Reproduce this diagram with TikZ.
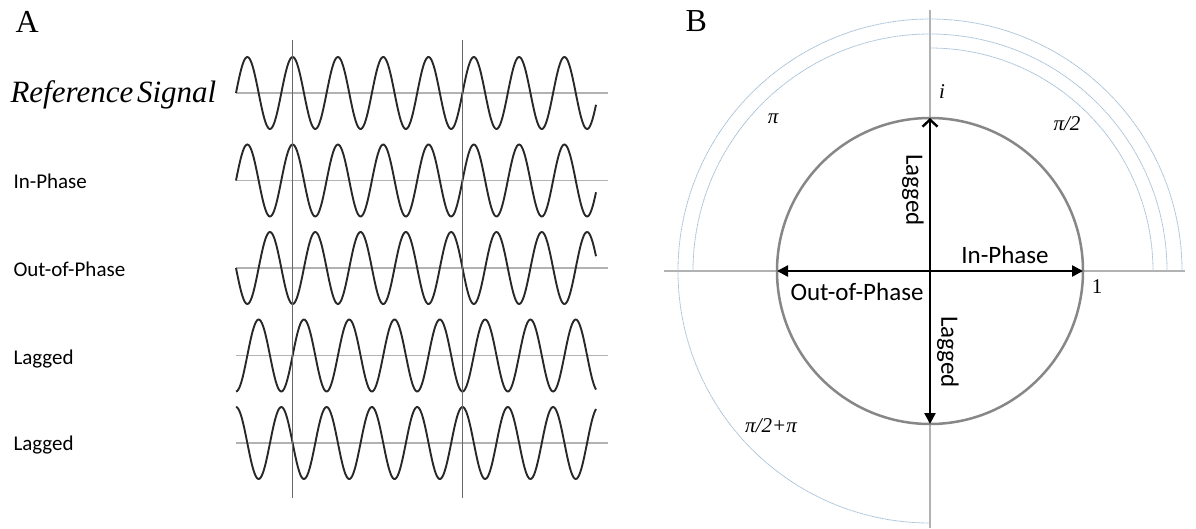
\documentclass[tikz,border=0pt]{standalone}
\usepackage{fontspec}
\setmainfont{Liberation Serif}
\setsansfont{Carlito}
\usetikzlibrary{arrows.meta}
\definecolor{axgray}{RGB}{178,178,178}
\definecolor{linegray}{RGB}{105,105,105}
\definecolor{circgray}{RGB}{135,135,135}
\definecolor{arcblue}{RGB}{165,192,215}
\definecolor{wavegray}{RGB}{40,40,40}

\begin{document}
\begin{tikzpicture}[x=1pt, y=-1pt,
    wave/.style={wavegray, line width=1.9pt},
    axis/.style={axgray, line width=1.8pt},
    marker/.style={linegray, line width=1.3pt},
    lbl/.style={font=\sffamily\fontsize{21}{25}\selectfont, anchor=base west},
    plbl/.style={font=\sffamily\fontsize{25}{30}\selectfont},
    mlbl/.style={font=\fontsize{21}{25}\selectfont, anchor=base},
    panel/.style={font=\fontsize{32}{38}\selectfont, anchor=base west},
    ring/.style={arcblue, line width=0.8pt, dash pattern=on 1.2pt off 0.5pt},
    vec/.style={-{Triangle[length=11pt,width=11pt]}, line width=2.4pt}
]
  \useasboundingbox (0,0) rectangle (1196,528);

  % A: signals
  \node[panel] (A) at (12,32) {A};
  \foreach \yc/\ph in {93/0, 180.5/0, 268/180, 355.5/-90, 443/90} {
    \draw[axis] (236,\yc) -- (608,\yc);
    \draw[wave] plot[domain=236:596, samples=320, smooth] (\x, {\yc - 36*sin((\x-236)/45.3*360 + \ph)});
  }
  \draw[marker] (292.6,40) -- (292.6,498);
  \draw[marker] (462.5,40) -- (462.5,498);
  \node[font=\itshape\fontsize{31}{36}\selectfont, anchor=base west] (ref) at (7,102) {Reference\hspace{0.12em}Signal};
  \node[lbl] (inph) at (10,188) {In-Phase};
  \node[lbl] (outph) at (10,276) {Out-of-Phase};
  \node[lbl] (lagA) at (10,364) {Lagged};
  \node[lbl] (lagB) at (10,450) {Lagged};

  % B: unit circle
  \node[panel] (B) at (682,31) {B};
  \coordinate (o) at (930,271);
  \coordinate (up) at (930,118);
  \coordinate (down) at (930,424);
  \coordinate (right) at (1083,271);
  \coordinate (left) at (777,271);
  \draw[axis] (930,10) -- (930,528);
  \draw[axis] (664,271) -- (1185,271);
  \draw[ring] (o) ++(223,0) arc[start angle=0, end angle=-90, radius=223];
  \draw[ring] (o) ++(237,0) arc[start angle=0, end angle=-180, radius=237];
  \draw[ring] (o) ++(252,0) arc[start angle=0, end angle=-270, radius=252];
  \draw[circgray, line width=2.5pt] (o) circle[radius=153];
  \draw[-{Straight Barb[length=7pt,width=15pt,line width=2.4pt]}, line width=2.4pt] (o) -- (up);
  \draw[vec] (o) -- (down);
  \draw[vec] (o) -- (right);
  \draw[vec] (o) -- (left);
  \node[plbl, anchor=base] (inB) at (1005,263) {In-Phase};
  \node[plbl, anchor=base] (outB) at (857,300) {Out-of-Phase};
  \node[plbl, rotate=-90] (lagU) at (913,190) {Lagged};
  \node[plbl, rotate=-90] (lagD) at (948,352) {Lagged};
  \node[mlbl] (one) at (1097,293) {1};
  \node[mlbl, font=\itshape\fontsize{21}{25}\selectfont] (imag) at (942,98) {i};
  \node[mlbl, font=\itshape\fontsize{21}{25}\selectfont] (pi) at (773,123) {π};
  \node[mlbl, font=\itshape\fontsize{21}{25}\selectfont] (pihalf) at (1067,130) {π/2};
  \node[mlbl, font=\itshape\fontsize{21}{25}\selectfont] (pisum) at (771,432) {π/2+π};
\end{tikzpicture}
\end{document}
